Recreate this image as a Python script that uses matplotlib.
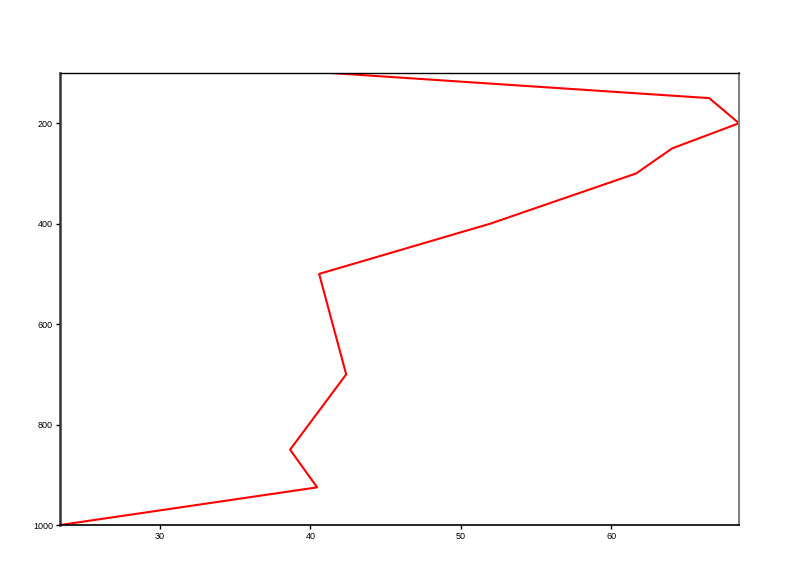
import matplotlib
matplotlib.use("Agg")
import matplotlib.pyplot as plt

pressure = [100, 150, 200, 250, 300, 400, 500, 700, 850, 925, 1000]
values = [41.38, 66.52, 68.5, 64.06, 61.66, 51.96, 40.58, 42.38, 38.65, 40.45, 23.35]
x_ticks = [30, 40, 50, 60]
y_ticks = [200, 400, 600, 800, 1000]

plt.rcParams['font.family'] = ['Liberation Sans', 'DejaVu Sans']
fig = plt.figure(figsize=(8, 5.66), dpi=100)
ax = fig.add_axes([0.075, 0.0724, 0.84875, 0.7986])
ax.plot(values, pressure, color='#ff0000', linewidth=1.5)
ax.set_xlim(min(values), max(values))
ax.set_ylim(1000, 100)
ax.set_xticks(x_ticks)
ax.set_yticks(y_ticks)
ax.tick_params(axis='both', labelsize=6.5, length=3, width=1, direction='out', pad=2)
ax.spines['left'].set_color('#333333')
ax.spines['left'].set_linewidth(1.8)
ax.spines['right'].set_color('#808080')
ax.spines['right'].set_linewidth(1.5)
ax.spines['top'].set_color('black')
ax.spines['top'].set_linewidth(1.0)
ax.spines['bottom'].set_color('black')
ax.spines['bottom'].set_linewidth(1.2)
fig.savefig('out.png', dpi=100)
